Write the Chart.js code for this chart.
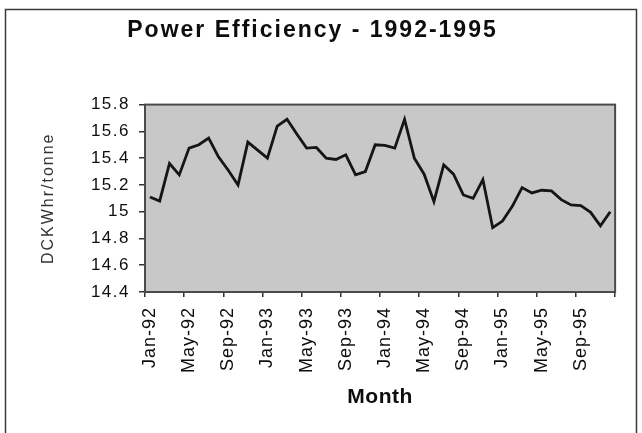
<!DOCTYPE html>
<html>
<head>
<meta charset="utf-8">
<script src="https://cdn.jsdelivr.net/npm/chart.js@4.4.1/dist/chart.umd.min.js"></script>
<style>
  html, body { margin: 0; padding: 0; background: #ffffff; }
  #wrap { position: relative; width: 642px; height: 433px; }
</style>
</head>
<body>
<div id="wrap"><canvas id="c" width="642" height="433"></canvas></div>
<script>
// ---------------- data ----------------
const titleText = 'Power Efficiency - 1992-1995';
const xAxisTitle = 'Month';
const yAxisTitle = 'DCKWhr/tonne';

const monthNames = ['Jan','Feb','Mar','Apr','May','Jun','Jul','Aug','Sep','Oct','Nov','Dec'];
const yearSuffixes = ['92','93','94','95'];
const categories = [];
yearSuffixes.forEach(y => monthNames.forEach(m => categories.push(m + '-' + y)));

const values1992 = [15.11, 15.08, 15.36, 15.275, 15.475, 15.50, 15.55, 15.41, 15.31, 15.20, 15.52, 15.46];
const values1993 = [15.40, 15.64, 15.69, 15.58, 15.475, 15.48, 15.40, 15.39, 15.425, 15.275, 15.30, 15.50];
const values1994 = [15.495, 15.475, 15.69, 15.40, 15.28, 15.075, 15.35, 15.28, 15.125, 15.10, 15.24, 14.88];
const values1995 = [14.93, 15.04, 15.18, 15.14, 15.16, 15.155, 15.09, 15.05, 15.045, 14.995, 14.895, 15.00];
const efficiency = [].concat(values1992, values1993, values1994, values1995);

const yTickValues = [14.4, 14.6, 14.8, 15.0, 15.2, 15.4, 15.6, 15.8];
const yTickLabels = ['14.4', '14.6', '14.8', '15', '15.2', '15.4', '15.6', '15.8'];
const xLabelEvery = 4;

// ---------------- helpers ----------------
Chart.defaults.font.family = "'Liberation Sans', Arial, Helvetica, sans-serif";

function patchSpacing(obj, method, ls) {
  if (!obj || !obj[method]) return;
  const orig = obj[method];
  obj[method] = function (...args) {
    const c = this.ctx;
    const prev = c.letterSpacing;
    c.letterSpacing = ls;
    try { return orig.apply(this, args); }
    finally { c.letterSpacing = prev || '0px'; }
  };
}

const spacingPlugin = {
  id: 'spacing',
  afterLayout(chart) {
    if (chart.$lsPatched) return;
    chart.$lsPatched = true;
    patchSpacing(chart.titleBlock, 'draw', '2px');
    patchSpacing(chart.scales.y, 'drawLabels', '1.5px');
    patchSpacing(chart.scales.x, 'drawLabels', '1px');
    patchSpacing(chart.scales.x, 'drawTitle', '0.5px');
    patchSpacing(chart.scales.y, 'drawTitle', '2px');
  }
};

const framePlugin = {
  id: 'frame',
  beforeDraw(chart) {
    const ctx = chart.ctx;
    ctx.save();
    ctx.strokeStyle = '#3a3a3a';
    ctx.lineWidth = 1.5;
    ctx.beginPath();
    ctx.moveTo(5.5, 433);
    ctx.lineTo(5.5, 9.5);
    ctx.lineTo(636.5, 9.5);
    ctx.lineTo(636.5, 433);
    ctx.stroke();
    ctx.restore();
  }
};

const areaPlugin = {
  id: 'area',
  beforeDatasetsDraw(chart) {
    const { ctx, chartArea: a } = chart;
    ctx.save();
    ctx.fillStyle = '#c8c8c8';
    ctx.fillRect(a.left, a.top, a.right - a.left, a.bottom - a.top);
    ctx.restore();
  },
  afterDatasetsDraw(chart) {
    const { ctx, chartArea: a } = chart;
    ctx.save();
    ctx.strokeStyle = '#4a4a4a';
    ctx.lineWidth = 2;
    ctx.strokeRect(a.left, a.top, a.right - a.left, a.bottom - a.top);
    ctx.restore();
  }
};

// ---------------- chart ----------------
new Chart(document.getElementById('c'), {
  type: 'line',
  data: {
    labels: categories,
    datasets: [{
      data: efficiency,
      borderColor: '#151515',
      borderWidth: 2.8,
      pointRadius: 0,
      tension: 0,
      fill: false
    }]
  },
  options: {
    responsive: false,
    animation: false,
    devicePixelRatio: 1,
    layout: { padding: { top: 9, right: 17, bottom: 0, left: 0 } },
    plugins: {
      legend: { display: false },
      tooltip: { enabled: false },
      title: {
        display: true,
        text: titleText,
        color: '#0d0d0d',
        font: { size: 23, weight: 'bold' },
        padding: { top: 8, bottom: 60 }
      }
    },
    scales: {
      x: {
        type: 'category',
        offset: true,
        border: { display: false },
        grid: {
          offset: true,
          drawOnChartArea: false,
          drawTicks: true,
          tickLength: 5,
          lineWidth: 1.5,
          tickColor: (ctx) => (ctx.index === undefined || ctx.index % xLabelEvery === 0) ? '#333333' : 'rgba(0,0,0,0)'
        },
        ticks: {
          autoSkip: false,
          maxRotation: 90,
          minRotation: 90,
          padding: 10,
          color: '#0d0d0d',
          font: { size: 18 },
          callback: (v, i) => (i % xLabelEvery === 0 ? categories[i] : '')
        },
        title: {
          display: true,
          text: xAxisTitle,
          color: '#0d0d0d',
          font: { size: 21, weight: 'bold' },
          padding: { top: 0, bottom: 23 }
        },
        afterFit: (s) => { s.height = 141; }
      },
      y: {
        min: 14.4,
        max: 15.8,
        border: { display: false },
        grid: {
          drawOnChartArea: false,
          drawTicks: true,
          tickLength: 6,
          lineWidth: 1.5,
          color: '#333333'
        },
        ticks: {
          stepSize: 0.2,
          padding: 9,
          color: '#0d0d0d',
          font: { size: 17 },
          callback: (v) => {
            let best = 0;
            yTickValues.forEach((t, i) => { if (Math.abs(t - v) < Math.abs(yTickValues[best] - v)) best = i; });
            return yTickLabels[best];
          }
        },
        title: {
          display: true,
          text: yAxisTitle,
          color: '#333333',
          font: { size: 16 },
          padding: { top: 39, bottom: 0 }
        },
        afterFit: (s) => { s.width = 145; }
      }
    }
  },
  plugins: [spacingPlugin, framePlugin, areaPlugin]
});
</script>
</body>
</html>
